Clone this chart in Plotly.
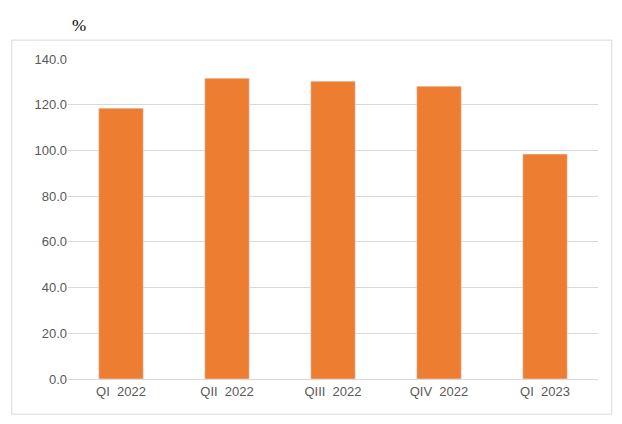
import plotly.graph_objects as go

quarters = ["QI  2022", "QII  2022", "QIII  2022", "QIV  2022", "QI  2023"]
values = [118.5, 131.6, 130.3, 128.1, 98.4]
tick_vals = [0, 20, 40, 60, 80, 100, 120, 140]
tick_text = ["%.1f" % t for t in tick_vals]

fig = go.Figure()
fig.add_trace(go.Bar(x=quarters, y=values, marker_color="#ED7D31", width=0.42))

# page body adds ~8px margin, so the figure is sized a bit smaller than the window
fig.update_layout(
    width=606, height=408,
    margin=dict(l=60, r=16, t=51, b=37),
    paper_bgcolor="white", plot_bgcolor="white",
    showlegend=False,
    font=dict(family="Liberation Sans, Arial", size=13, color="#595959"),
    shapes=[dict(type="rect", xref="paper", yref="paper", x0=-0.106, x1=1.026, y0=-0.11, y1=1.059,
                 line=dict(color="#D9D9D9", width=1))],
    annotations=[dict(text="%", x=0.004, y=1.14, xref="paper", yref="paper", showarrow=False,
                      font=dict(family="Liberation Serif", size=17, color="black"))],
)
fig.update_yaxes(range=[0, 140], tickvals=tick_vals, ticktext=tick_text, gridcolor="#D9D9D9",
                 zeroline=False, showline=False, ticks="", ticklen=8, tickcolor="white")
fig.update_xaxes(showline=True, linecolor="#D9D9D9", ticks="")

fig.write_html("out.html")
